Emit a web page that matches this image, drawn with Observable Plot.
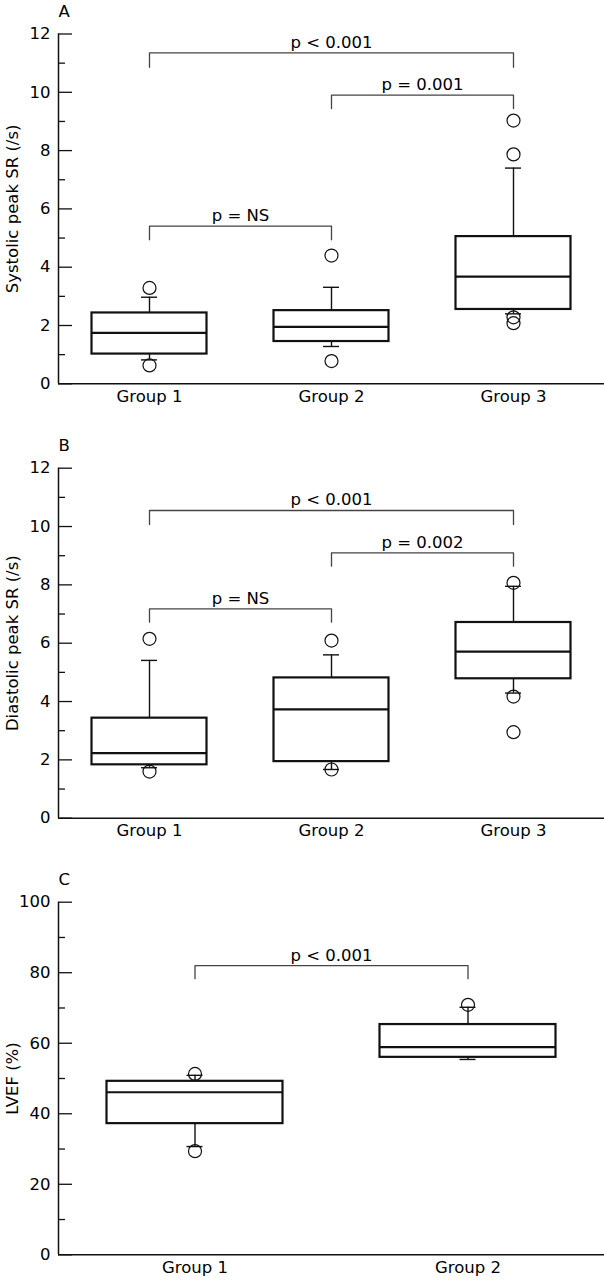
<!DOCTYPE html>
<html><head><meta charset="utf-8">
<script src="https://cdn.jsdelivr.net/npm/d3@7"></script>
<script src="https://cdn.jsdelivr.net/npm/@observablehq/plot@0.6"></script>
<style>
body{margin:0;background:#fff;}
#chart svg{display:block;}
</style>
</head><body><div id="chart"></div>
<script>
// ---- Panel A: Systolic peak SR (/s) ----
const groupsA = ["Group 1", "Group 2", "Group 3"];
const sysLow  = [0.82, 1.28, 2.40];
const sysQ1   = [1.02, 1.45, 2.55];
const sysMed  = [1.75, 1.95, 3.68];
const sysQ3   = [2.43, 2.51, 5.05];
const sysHigh = [2.97, 3.31, 7.40];
const sysOutGroup = [1, 1, 2, 2, 3, 3, 3, 3];
const sysOutValue = [3.29, 0.63, 4.40, 0.78, 7.87, 9.03, 2.28, 2.08];
const sysBrFrom  = [1, 2, 1];
const sysBrTo    = [3, 3, 2];
const sysBrTop   = [11.35, 9.90, 5.41];
const sysBrFoot  = [10.86, 9.44, 4.94];
const sysBrLabel = ["p < 0.001", "p = 0.001", "p = NS"];

// ---- Panel B: Diastolic peak SR (/s) ----
const groupsB = ["Group 1", "Group 2", "Group 3"];
const diaLow  = [1.73, 1.67, 4.29];
const diaQ1   = [1.83, 1.94, 4.78];
const diaMed  = [2.23, 3.73, 5.71];
const diaQ3   = [3.43, 4.81, 6.71];
const diaHigh = [5.41, 5.60, 7.95];
const diaOutGroup = [1, 1, 2, 2, 3, 3, 3];
const diaOutValue = [6.15, 1.60, 6.09, 1.67, 8.07, 4.17, 2.95];
const diaBrFrom  = [1, 2, 1];
const diaBrTo    = [3, 3, 2];
const diaBrTop   = [10.55, 9.10, 7.18];
const diaBrFoot  = [10.07, 8.64, 6.72];
const diaBrLabel = ["p < 0.001", "p = 0.002", "p = NS"];

// ---- Panel C: LVEF (%) ----
const groupsC = ["Group 1", "Group 2"];
const efLow  = [30.7, 55.4];
const efQ1   = [37.2, 56.0];
const efMed  = [46.1, 58.9];
const efQ3   = [49.2, 65.3];
const efHigh = [50.9, 70.2];
const efOutGroup = [1, 1, 2];
const efOutValue = [51.3, 29.4, 70.9];
const efBrFrom  = [1];
const efBrTo    = [2];
const efBrTop   = [82.0];
const efBrFoot  = [78.3];
const efBrLabel = ["p < 0.001"];

const FONT = "'DejaVu Sans', sans-serif";
const FS = 16.5;
const W = 604, ML = 58, MR = 0;

function panel(o) {
  const n = o.groups.length;
  const innerW = W - ML - MR;
  const unit = innerW / n;               // px per group
  const boxHalf = o.boxPx / 2 / unit;
  const capHalf = 8 / unit;
  const boxes = o.groups.map((g, i) => ({i: i + 1, low: o.low[i], q1: o.q1[i], med: o.med[i], q3: o.q3[i], high: o.high[i]}));
  const outs = o.outG.map((g, j) => ({i: g, v: o.outV[j]}));
  const brLines = o.brFrom.flatMap((f, k) => [
    {k, x: f, y: o.brFoot[k]}, {k, x: f, y: o.brTop[k]},
    {k, x: o.brTo[k], y: o.brTop[k]}, {k, x: o.brTo[k], y: o.brFoot[k]}
  ]);
  const brText = o.brFrom.map((f, k) => ({x: (f + o.brTo[k]) / 2, y: o.brTop[k], t: o.brLabel[k]}));
  const majors = d3.range(0, o.yMax + 1e-9, o.yStep);
  const minors = d3.range(o.yStep / 2, o.yMax, o.yStep);
  return Plot.plot({
    width: W, height: o.height,
    marginLeft: ML, marginRight: MR, marginTop: o.mt, marginBottom: o.mb,
    style: {fontFamily: FONT, fontSize: FS + "px", color: "#000", background: "#fff", overflow: "visible"},
    x: {domain: [0.5, n + 0.5]},
    y: {domain: [0, o.yMax]},
    marks: [
      Plot.axisY({ticks: majors, tickSize: 0, tickPadding: 8, tickFormat: d => String(d), label: null, fontSize: FS}),
      Plot.axisX({ticks: d3.range(1, n + 1), tickSize: 0, tickPadding: 6, tickFormat: d => o.groups[d - 1], label: null, fontSize: FS}),
      Plot.tickY(majors, {y: d => d, insetRight: innerW - 14, stroke: "#111", strokeWidth: 1.3}),
      Plot.tickY(minors, {y: d => d, insetRight: innerW - 7, stroke: "#111", strokeWidth: 1.3}),
      Plot.ruleX([0.5], {stroke: "#111", strokeWidth: 1.5}),
      Plot.ruleY([0], {stroke: "#111", strokeWidth: 1.5}),
      Plot.ruleX(boxes, {x: "i", y1: "q3", y2: "high", stroke: "#111", strokeWidth: 1.4}),
      Plot.ruleX(boxes, {x: "i", y1: "low", y2: "q1", stroke: "#111", strokeWidth: 1.4}),
      Plot.ruleY(boxes, {y: "high", x1: d => d.i - capHalf, x2: d => d.i + capHalf, stroke: "#111", strokeWidth: 1.4}),
      Plot.ruleY(boxes, {y: "low", x1: d => d.i - capHalf, x2: d => d.i + capHalf, stroke: "#111", strokeWidth: 1.4}),
      Plot.rect(boxes, {x1: d => d.i - boxHalf, x2: d => d.i + boxHalf, y1: "q1", y2: "q3", fill: "white", stroke: "#111", strokeWidth: 2.2}),
      Plot.ruleY(boxes, {y: "med", x1: d => d.i - boxHalf, x2: d => d.i + boxHalf, stroke: "#111", strokeWidth: 2.2}),
      Plot.dot(outs, {x: "i", y: "v", r: 6.5, stroke: "#111", fill: "none", strokeWidth: 1.2}),
      Plot.line(brLines, {x: "x", y: "y", z: "k", stroke: "#444", strokeWidth: 1.3}),
      Plot.text(brText, {x: "x", y: "y", text: "t", dy: -5, lineAnchor: "bottom", fontSize: FS, fill: "#000"}),
      Plot.text([o.label], {frameAnchor: "left", rotate: -90, dx: -46, textAnchor: "middle", lineAnchor: "middle", fontSize: FS, fill: "#000"}),
      Plot.text([o.letter], {frameAnchor: "top-left", dy: -22, dx: 0, textAnchor: "start", lineAnchor: "middle", fontSize: FS, fill: "#000"})
    ]
  });
}

const root = document.getElementById("chart");
root.append(panel({
  letter: "A", label: "Systolic peak SR (/s)", groups: groupsA,
  low: sysLow, q1: sysQ1, med: sysMed, q3: sysQ3, high: sysHigh,
  outG: sysOutGroup, outV: sysOutValue,
  brFrom: sysBrFrom, brTo: sysBrTo, brTop: sysBrTop, brFoot: sysBrFoot, brLabel: sysBrLabel,
  yMax: 12, yStep: 2, height: 420, mt: 33.5, mb: 36.7, boxPx: 115
}));
root.append(panel({
  letter: "B", label: "Diastolic peak SR (/s)", groups: groupsB,
  low: diaLow, q1: diaQ1, med: diaMed, q3: diaQ3, high: diaHigh,
  outG: diaOutGroup, outV: diaOutValue,
  brFrom: diaBrFrom, brTo: diaBrTo, brTop: diaBrTop, brFoot: diaBrFoot, brLabel: diaBrLabel,
  yMax: 12, yStep: 2, height: 425, mt: 47.7, mb: 27.3, boxPx: 115
}));
root.append(panel({
  letter: "C", label: "LVEF (%)", groups: groupsC,
  low: efLow, q1: efQ1, med: efMed, q3: efQ3, high: efHigh,
  outG: efOutGroup, outV: efOutValue,
  brFrom: efBrFrom, brTo: efBrTo, brTop: efBrTop, brFoot: efBrFoot, brLabel: efBrLabel,
  yMax: 100, yStep: 20, height: 435, mt: 56.7, mb: 25.7, boxPx: 176
}));
</script>
</body></html>
